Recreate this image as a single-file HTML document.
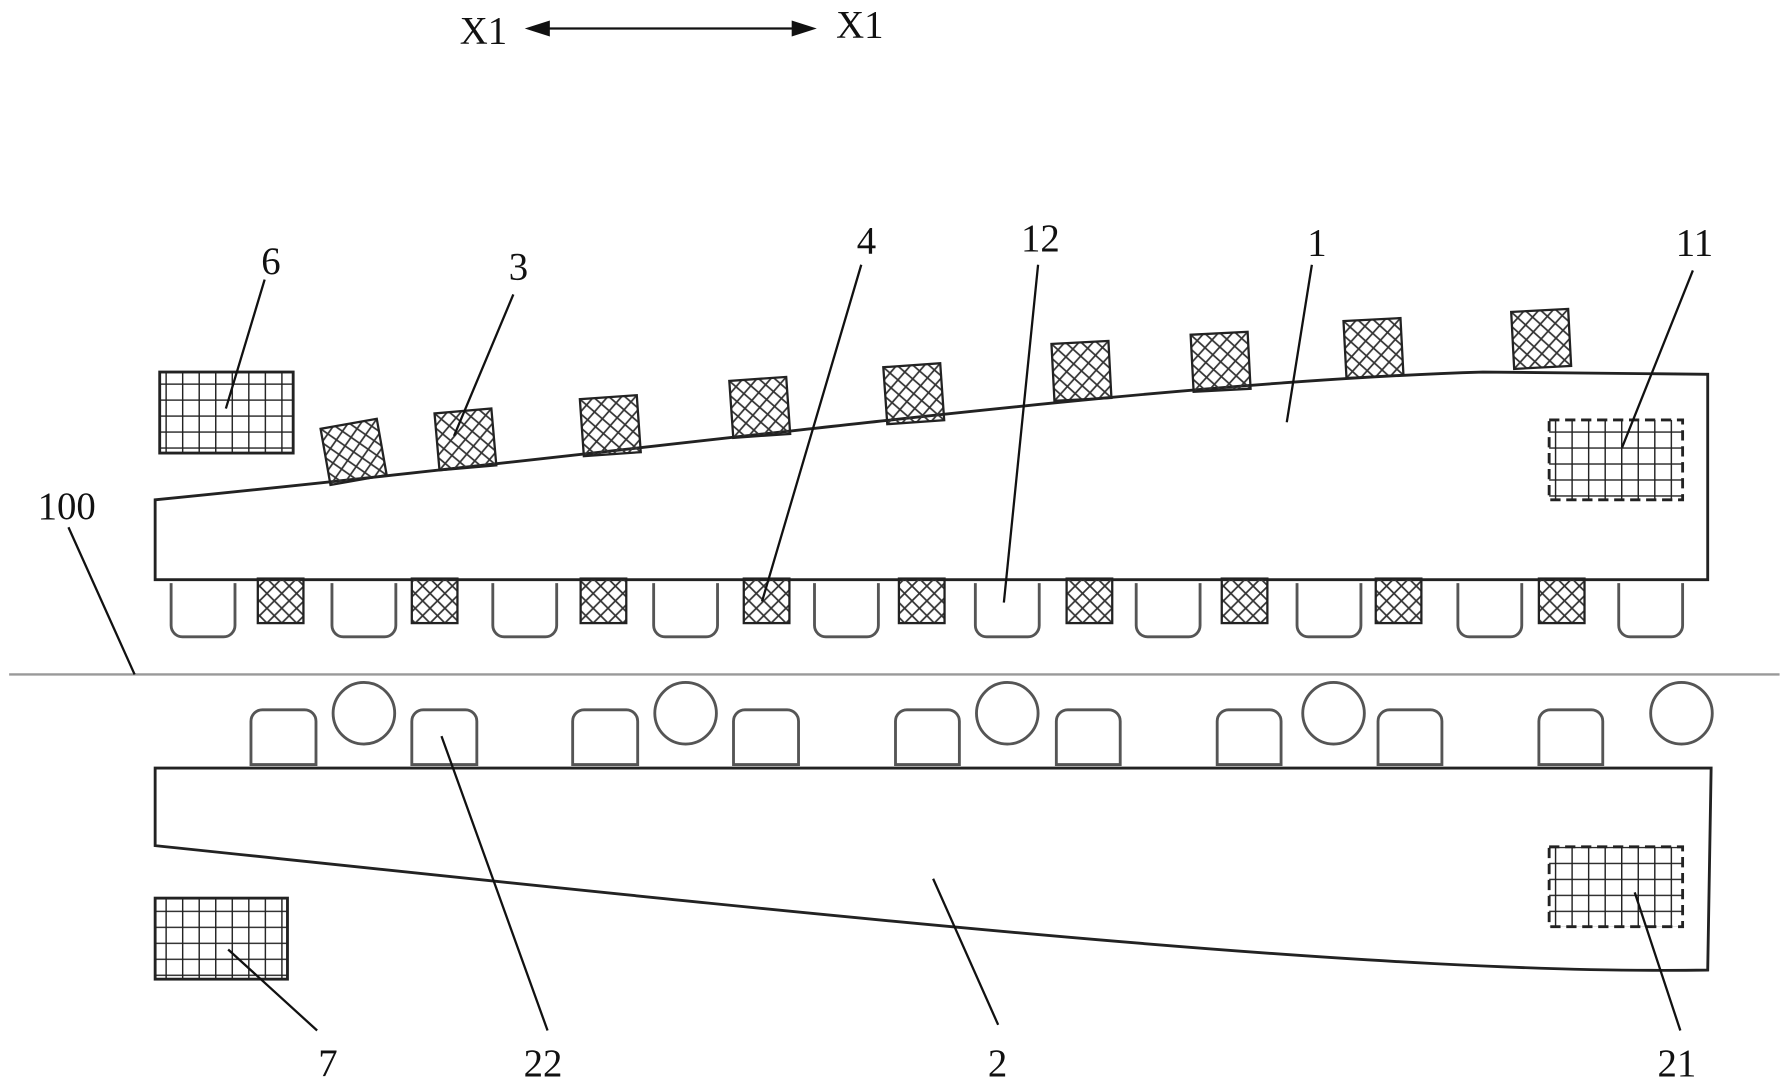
<!DOCTYPE html>
<html><head><meta charset="utf-8"><style>
html,body{margin:0;padding:0;background:#fff;}
svg{display:block;}
text{font-family:"Liberation Serif",serif;font-size:34px;fill:#111;}
</style></head><body>
<svg width="1783" height="1083" viewBox="0 0 1563 949" preserveAspectRatio="none" xmlns="http://www.w3.org/2000/svg">
<defs>
<pattern id="ch" width="13" height="13" patternUnits="userSpaceOnUse">
<path d="M0,0 L13,13 M13,0 L0,13" stroke="#333" stroke-width="1.5"/>
</pattern>
<pattern id="gr" width="14.5" height="14" patternUnits="userSpaceOnUse">
<path d="M0,0 H14.5 M0,0 V14" stroke="#222" stroke-width="2.5"/>
</pattern>
<g id="sq"><rect x="-25" y="-25" width="50" height="50" fill="url(#ch)" stroke="#222" stroke-width="2"/></g>
</defs>
<text x="403" y="38">X1</text>
<text x="733" y="33">X1</text>
<line x1="470" y1="25" x2="705" y2="25" stroke="#111" stroke-width="2"/>
<path d="M460,25 L482,18 L482,32 Z" fill="#111"/>
<path d="M716,25 L694,18 L694,32 Z" fill="#111"/>
<path d="M136,438 C600,392 1000,335 1300,326 L1497,328 L1497,508 L136,508 Z" fill="#fff" stroke="#222" stroke-width="2.5"/>
<path d="M136,673 L1500,673 L1497,850 C1200,855 700,800 136,741 Z" fill="#fff" stroke="#222" stroke-width="2.5"/>
<line x1="8" y1="591" x2="1560" y2="591" stroke="#999" stroke-width="2"/>
<g fill="#fff" stroke="#555" stroke-width="2.5">
<path d="M150,511 V548 a10,10 0 0 0 10,10 H196 a10,10 0 0 0 10,-10 V511"/>
<path d="M291,511 V548 a10,10 0 0 0 10,10 H337 a10,10 0 0 0 10,-10 V511"/>
<path d="M432,511 V548 a10,10 0 0 0 10,10 H478 a10,10 0 0 0 10,-10 V511"/>
<path d="M573,511 V548 a10,10 0 0 0 10,10 H619 a10,10 0 0 0 10,-10 V511"/>
<path d="M714,511 V548 a10,10 0 0 0 10,10 H760 a10,10 0 0 0 10,-10 V511"/>
<path d="M855,511 V548 a10,10 0 0 0 10,10 H901 a10,10 0 0 0 10,-10 V511"/>
<path d="M996,511 V548 a10,10 0 0 0 10,10 H1042 a10,10 0 0 0 10,-10 V511"/>
<path d="M1137,511 V548 a10,10 0 0 0 10,10 H1183 a10,10 0 0 0 10,-10 V511"/>
<path d="M1278,511 V548 a10,10 0 0 0 10,10 H1324 a10,10 0 0 0 10,-10 V511"/>
<path d="M1419,511 V548 a10,10 0 0 0 10,10 H1465 a10,10 0 0 0 10,-10 V511"/>
</g>
<g fill="url(#ch)" stroke="#222" stroke-width="2">
<rect x="226" y="507" width="40" height="39"/>
<rect x="361" y="507" width="40" height="39"/>
<rect x="509" y="507" width="40" height="39"/>
<rect x="652" y="507" width="40" height="39"/>
<rect x="788" y="507" width="40" height="39"/>
<rect x="935" y="507" width="40" height="39"/>
<rect x="1071" y="507" width="40" height="39"/>
<rect x="1206" y="507" width="40" height="39"/>
<rect x="1349" y="507" width="40" height="39"/>
</g>
<use href="#sq" transform="translate(310,396) rotate(-10)"/>
<use href="#sq" transform="translate(408,385) rotate(-5)"/>
<use href="#sq" transform="translate(535,373) rotate(-4)"/>
<use href="#sq" transform="translate(666,357) rotate(-4)"/>
<use href="#sq" transform="translate(801,345) rotate(-4)"/>
<use href="#sq" transform="translate(948,325) rotate(-3)"/>
<use href="#sq" transform="translate(1070,317) rotate(-3)"/>
<use href="#sq" transform="translate(1204,305) rotate(-3)"/>
<use href="#sq" transform="translate(1351,297) rotate(-3)"/>
<g fill="#fff" stroke="#555" stroke-width="2.5">
<path d="M220,670 V632 a10,10 0 0 1 10,-10 H267 a10,10 0 0 1 10,10 V670 Z"/>
<path d="M361,670 V632 a10,10 0 0 1 10,-10 H408 a10,10 0 0 1 10,10 V670 Z"/>
<path d="M502,670 V632 a10,10 0 0 1 10,-10 H549 a10,10 0 0 1 10,10 V670 Z"/>
<path d="M643,670 V632 a10,10 0 0 1 10,-10 H690 a10,10 0 0 1 10,10 V670 Z"/>
<path d="M785,670 V632 a10,10 0 0 1 10,-10 H831 a10,10 0 0 1 10,10 V670 Z"/>
<path d="M926,670 V632 a10,10 0 0 1 10,-10 H972 a10,10 0 0 1 10,10 V670 Z"/>
<path d="M1067,670 V632 a10,10 0 0 1 10,-10 H1113 a10,10 0 0 1 10,10 V670 Z"/>
<path d="M1208,670 V632 a10,10 0 0 1 10,-10 H1254 a10,10 0 0 1 10,10 V670 Z"/>
<path d="M1349,670 V632 a10,10 0 0 1 10,-10 H1395 a10,10 0 0 1 10,10 V670 Z"/>
<circle cx="319" cy="625" r="27"/>
<circle cx="601" cy="625" r="27"/>
<circle cx="883" cy="625" r="27"/>
<circle cx="1169" cy="625" r="27"/>
<circle cx="1474" cy="625" r="27"/>
</g>
<rect x="140" y="326" width="117" height="71" fill="url(#gr)" stroke="#222" stroke-width="2.5"/>
<rect x="136" y="787" width="116" height="71" fill="url(#gr)" stroke="#222" stroke-width="2.5"/>
<rect x="1358" y="368" width="117" height="70" fill="url(#gr)" stroke="#222" stroke-width="2.5" stroke-dasharray="9,5"/>
<rect x="1358" y="742" width="117" height="70" fill="url(#gr)" stroke="#222" stroke-width="2.5" stroke-dasharray="9,5"/>
<g stroke="#111" stroke-width="2">
<line x1="232" y1="245" x2="198" y2="358"/>
<line x1="450" y1="258" x2="398" y2="382"/>
<line x1="755" y1="232" x2="668" y2="527"/>
<line x1="910" y1="232" x2="880" y2="528"/>
<line x1="1150" y1="232" x2="1128" y2="370"/>
<line x1="1484" y1="237" x2="1422" y2="392"/>
<line x1="60" y1="462" x2="118" y2="591"/>
<line x1="278" y1="903" x2="200" y2="832"/>
<line x1="480" y1="903" x2="387" y2="645"/>
<line x1="875" y1="898" x2="818" y2="770"/>
<line x1="1473" y1="903" x2="1433" y2="782"/>
</g>
<text x="229" y="240">6</text>
<text x="446" y="245">3</text>
<text x="751" y="222">4</text>
<text x="895" y="220">12</text>
<text x="1146" y="224">1</text>
<text x="1469" y="224">11</text>
<text x="33" y="455">100</text>
<text x="279" y="943">7</text>
<text x="459" y="943">22</text>
<text x="866" y="943">2</text>
<text x="1453" y="943">21</text>
</svg>
</body></html>
